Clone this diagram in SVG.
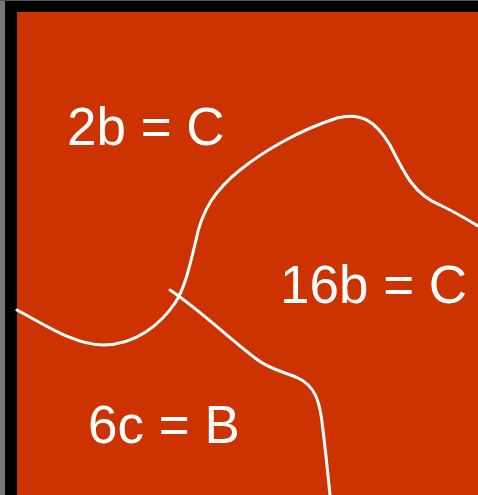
<svg xmlns="http://www.w3.org/2000/svg" width="478" height="495" viewBox="0 0 478 495">
<style>
.lbl{font-family:"Liberation Sans",Arial,sans-serif;font-size:53px;fill:#ffffff}
.ln{fill:none;stroke:#ffffff;stroke-width:3;stroke-linecap:round;stroke-linejoin:round}
</style>
<rect x="0" y="0" width="478" height="495" fill="#000000"/>
<rect x="0" y="0" width="5" height="495" fill="#777777"/>
<rect x="0" y="0" width="478" height="1" fill="#555555"/>
<rect x="17" y="12" width="461" height="483" fill="#cc3300"/>
<g id="connectors">
<path class="ln" d="M17,310 C45,325 75,345 103,345 C135,345 160,325 175,303 C185,288 190,265 196,240 C202,210 215,190 240,170 C265,150 300,130 337,118 C360,112 375,120 390,145 C405,175 415,195 440,205 C455,212 468,220 478,226"/>
<path class="ln" d="M170,290 C200,310 225,335 255,358 C270,370 285,372 298,378 C315,386 320,400 323,430 C326,455 328,475 330,495"/>
</g>
<g id="n1"><text class="lbl" x="67" y="145">2b = C</text></g>
<g id="n2"><text class="lbl" x="280" y="303">16b = C</text></g>
<g id="n3"><text class="lbl" x="88" y="443">6c = B</text></g>
</svg>
